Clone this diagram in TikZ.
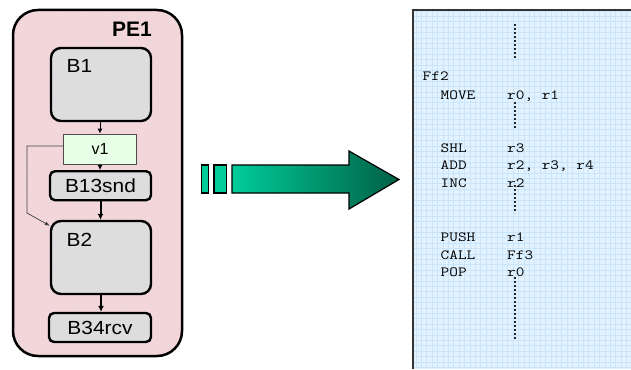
\documentclass[tikz,border=0pt]{standalone}
\usepackage{fontspec}
\usepackage{graphicx}
\setmainfont{Liberation Sans}
\newfontfamily\boxfont[FakeStretch=1.1]{Liberation Sans}
\usetikzlibrary{arrows.meta,calc}
\definecolor{pebg}{RGB}{242,214,218}
\definecolor{pedot}{RGB}{216,218,228}
\definecolor{blkfill}{RGB}{221,221,221}
\definecolor{varfill}{RGB}{230,255,230}
\definecolor{codebg}{RGB}{226,242,255}
\definecolor{codegrid}{RGB}{202,229,250}
\definecolor{arrowlight}{RGB}{0,204,153}
\definecolor{arrowdark}{RGB}{0,96,70}
% wide typewriter text for the listing
\newcommand{\cw}[1]{\scalebox{1.2}[1]{\ttfamily\fontsize{14}{17}\selectfont #1}}

\begin{document}
\begin{tikzpicture}[x=1pt,y=-1pt,
  pebox/.style={draw=black, line width=2.5pt, fill=pebg, rounded corners=25pt, inner sep=0pt},
  blk/.style={draw=black, line width=2.4pt, fill=blkfill, rounded corners=10pt, inner sep=0pt},
  smallblk/.style={blk, rounded corners=5pt},
  var/.style={draw=black!70, line width=0.8pt, fill=varfill, inner sep=0pt},
  lbl/.style={font=\boxfont\fontsize{19}{22}\selectfont, inner sep=0pt},
  title/.style={font=\bfseries\fontsize{21}{24}\selectfont, inner sep=0pt},
  code/.style={inner sep=0pt, anchor=base west},
  flow/.style={-{Latex[length=5pt,width=5pt]}, line width=1pt},
  flowthick/.style={-{Latex[length=6pt,width=6pt]}, line width=2pt},
  side/.style={-{Latex[length=5pt,width=4pt]}, line width=0.7pt, black!75},
  gap/.style={line width=2pt, dash pattern=on 2pt off 2pt, black!85},
  arrowpart/.style={draw=black, line width=1.2pt}]

\useasboundingbox (0,0) rectangle (631,369);

% processing element container
\node[pebox, minimum width=169pt, minimum height=346pt] (pe) at (97.5,183) {};
\begin{scope}
  \clip[rounded corners=23pt] (15,12) rectangle (180,354);
  \foreach \r in {0,...,58} {
    \foreach \c in {0,...,14} {
      \pgfmathsetmacro{\xx}{13+12*\c+6*mod(\r,2)}
      \fill[pedot] (\xx,{10+6*\r}) circle (0.8pt);
    }
  }
\end{scope}
\node[title, anchor=base east] (petitle) at (152,36.5) {PE1};

% basic blocks
\node[blk, minimum width=100pt, minimum height=73pt] (b1) at (101,84.5) {};
\node[lbl, anchor=base west] (b1t) at (66.5,72.7) {B1};
\node[var, minimum width=73pt, minimum height=30pt] (v1) at (100,149) {\fontsize{16}{19}\selectfont v1};
\node[smallblk, minimum width=101pt, minimum height=29pt] (b13) at (100.5,185.7) {};
\node[lbl] (b13t) at (100.5,186) {B13snd};
\node[blk, minimum width=100pt, minimum height=73pt] (b2) at (101,257.5) {};
\node[lbl, anchor=base west] (b2t) at (66.5,246.7) {B2};
\node[smallblk, minimum width=102pt, minimum height=29pt] (b34) at (100,327.5) {};
\node[lbl] (b34t) at (100,328) {B34rcv};

% control flow
\draw[flow] (b1.south -| v1.north) -- (v1.north);
\draw[flow] (v1.south) -- (v1.south |- b13.north);
\draw[flowthick] (b13.south) -- (b13.south |- b2.north);
\draw[flowthick] (b2.south) -- (b2.south |- b34.north);
\coordinate (sidein) at ([yshift=-6pt]b2.north west);
\draw[side] ([yshift=3pt]v1.west) -- (27,146) -- (27,213) -- (sidein);

% transformation arrow
\fill[arrowlight, arrowpart] (201.5,165) rectangle (208.5,193);
\fill[arrowlight, arrowpart] (214,165) rectangle (226.5,193);
\path[arrowpart, left color=arrowlight, right color=arrowdark]
  (232,165) -- (349,165) -- (349,151) -- (399,179.5) -- (349,209) -- (349,193) -- (232,193) -- cycle;

% generated code listing
\fill[codebg] (413,10) rectangle (631,369);
\begin{scope}
  \clip (413,10) rectangle (631,369);
  \draw[codegrid, line width=0.4pt, step=5.4pt] (413,10) grid (631,369);
\end{scope}
\draw[black!80, line width=1.2pt] (413,369) -- (413,10) -- (631,10);

\node[code] (ff2) at (422.5,81) {\cw{Ff2}};
\node[code] (i1) at (440.5,99.3) {\cw{MOVE}};
\node[code] (o1) at (507,99.3) {\cw{r0, r1}};
\node[code] (i2) at (440.5,152) {\cw{SHL}};
\node[code] (o2) at (507,152) {\cw{r3}};
\node[code] (i3) at (440.5,169.7) {\cw{ADD}};
\node[code] (o3) at (507,169.7) {\cw{r2, r3, r4}};
\node[code] (i4) at (440.5,187.3) {\cw{INC}};
\node[code] (o4) at (507,187.3) {\cw{r2}};
\node[code] (i5) at (440.5,241.7) {\cw{PUSH}};
\node[code] (o5) at (507,241.7) {\cw{r1}};
\node[code] (i6) at (440.5,259.3) {\cw{CALL}};
\node[code] (o6) at (507,259.3) {\cw{Ff3}};
\node[code] (i7) at (440.5,276.3) {\cw{POP}};
\node[code] (o7) at (507,276.3) {\cw{r0}};

% elided code
\draw[gap] (515,24) -- (515,58);
\draw[gap] (515,102) -- (515,128);
\draw[gap] (515,185) -- (515,213);
\draw[gap] (515,277) -- (515,340);
\end{tikzpicture}
\end{document}
